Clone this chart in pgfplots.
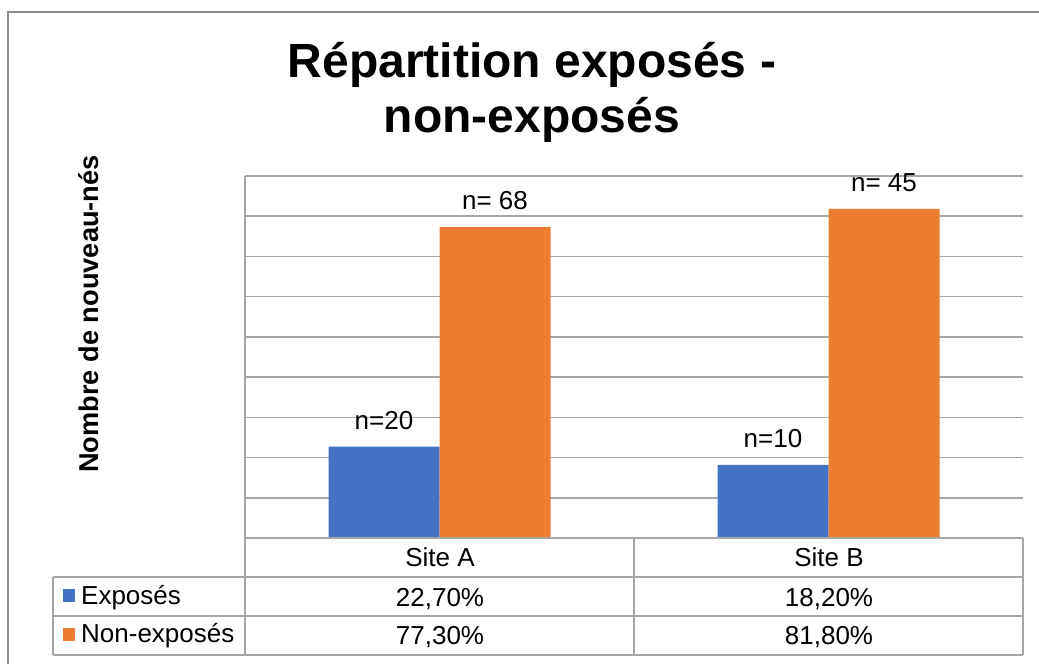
\documentclass[border=0pt]{standalone}
\usepackage{pgfplots}
\pgfplotsset{compat=1.18}
\usepackage{fontspec}
\setmainfont{Liberation Sans}
\definecolor{cblue}{HTML}{4472C4}
\definecolor{corange}{HTML}{ED7D31}
\definecolor{gridgray}{HTML}{A6A6A6}
\definecolor{bordergray}{HTML}{8C8C8C}
\newcommand{\tfont}{\fontsize{26}{31}\selectfont}
\begin{document}
\begin{tikzpicture}[x=1pt,y=1pt]
\path[use as bounding box] (0,0) rectangle (1039,664);
\draw[bordergray, line width=1.5pt] (8,-5) -- (8,652) -- (1045,652);
\begin{axis}[
  at={(245pt,126pt)}, anchor=south west,
  width=778pt, height=362pt, scale only axis,
  xmin=-0.5, xmax=1.5, ymin=0, ymax=90,
  ytick={0,10,...,90}, yticklabels={}, xtick=\empty,
  axis x line=none, axis y line*=left,
  y axis line style={gridgray, line width=1.5pt, -},
  ymajorgrids, grid style={gridgray, line width=1.5pt},
  major tick length=0pt,
  ybar=0pt, bar width=111pt, clip=false,
  nodes near coords={\pgfplotspointmeta},
  point meta=explicit symbolic,
  every node near coord/.append style={font=\tfont, anchor=south, inner sep=0pt, yshift=17pt},
]
\addplot[fill=cblue, draw=none] coordinates {(0,22.7) [n=20] (1,18.2) [n=10]};
\addplot[fill=corange, draw=none] coordinates {(0,77.3) [n= 68] (1,81.8) [n= 45]};
\end{axis}
% table
\begin{scope}[gridgray, line width=1.5pt]
\draw (245,126) -- (1023,126);
\draw (53,87) -- (1023,87);
\draw (53,48) -- (1023,48);
\draw (53,9) -- (1023,9);
\draw (53,9) -- (53,87);
\draw (245,9) -- (245,126);
\draw (634,9) -- (634,126);
\draw (1023,9) -- (1023,126);
\end{scope}
\fill[cblue] (62.5,61.5) rectangle (75,74.5);
\fill[corange] (62.5,22.5) rectangle (75,35.5);
\begin{scope}[every node/.style={font=\tfont, inner sep=0pt}]
\node[anchor=base] at (440,97) {Site A};
\node[anchor=base] at (829,97) {Site B};
\node[anchor=base west] at (81,59) {Exposés};
\node[anchor=base west] at (81,21) {Non-exposés};
\node[anchor=base] at (440,57) {22,70\%};
\node[anchor=base] at (829,57) {18,20\%};
\node[anchor=base] at (440,19) {77,30\%};
\node[anchor=base] at (829,19) {81,80\%};
\end{scope}
\node[font=\fontsize{48}{55}\selectfont\bfseries, inner sep=0pt, anchor=base] at (532,586) {Répartition exposés -};
\node[font=\fontsize{48}{55}\selectfont\bfseries, inner sep=0pt, anchor=base] at (532,531) {non-exposés};
\node[font=\fontsize{27.2}{32}\selectfont\bfseries, inner sep=0pt, rotate=90, anchor=base] at (98,350) {Nombre de nouveau-nés};
\end{tikzpicture}
\end{document}
